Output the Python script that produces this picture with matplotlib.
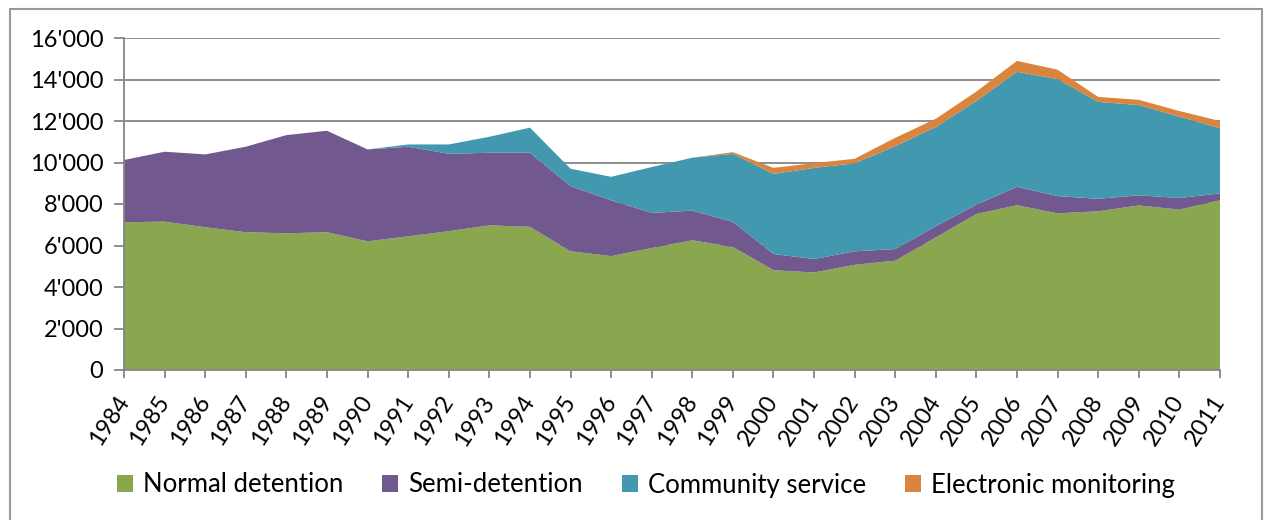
import matplotlib
matplotlib.use("Agg")
import matplotlib.pyplot as plt
from matplotlib.patches import Rectangle
from matplotlib.ticker import FuncFormatter

years = list(range(1984, 2012))

normal = [7120, 7150, 6880, 6640, 6590, 6640, 6200, 6440, 6690, 6970, 6900, 5720, 5490, 5880,
          6250, 5930, 4810, 4700, 5070, 5270, 6390, 7520, 7940, 7550, 7650, 7930, 7730, 8180]
semi = [3000, 3370, 3510, 4120, 4730, 4890, 4430, 4320, 3730, 3500, 3570, 3140, 2690, 1690,
        1430, 1210, 780, 650, 650, 560, 540, 450, 890, 830, 600, 490, 560, 330]
community = [0, 0, 0, 0, 0, 0, 0, 110, 450, 770, 1210, 840, 1130, 2210,
             2550, 3280, 3860, 4390, 4240, 4960, 4780, 5000, 5540, 5640, 4670, 4350, 3920, 3140]
electronic = [0, 0, 0, 0, 0, 0, 0, 0, 0, 0, 0, 0, 0, 0,
              0, 80, 290, 230, 220, 400, 400, 450, 530, 450, 240, 250, 270, 350]

labels = ["Normal detention", "Semi-detention", "Community service", "Electronic monitoring"]
colors = ["#8AA64F", "#71588F", "#4298AF", "#DB843D"]

plt.rcParams['font.family'] = ['Lato', 'DejaVu Sans']
grey = "#868686"

fig = plt.figure(figsize=(12.65, 5.2), dpi=100)
ax = fig.add_axes([124 / 1265, 1 - 370 / 520, (1220 - 124) / 1265, (370 - 38) / 520])

ax.stackplot(years, normal, semi, community, electronic, colors=colors, labels=labels, linewidth=0)

ax.set_xlim(years[0], years[-1])
ax.set_ylim(0, 16000)
ax.set_yticks(range(0, 16001, 2000))
ax.yaxis.set_major_formatter(FuncFormatter(lambda v, p: f"{int(v):,}".replace(",", "'")))
ax.set_xticks(years)
ax.set_xticklabels([str(y) for y in years], rotation=57, ha='right', va='center',
                   rotation_mode='anchor')

ax.grid(axis='y', color=grey, linewidth=1.3)
ax.set_axisbelow(True)
for s in ['top', 'right']:
    ax.spines[s].set_visible(False)
for s in ['left', 'bottom']:
    ax.spines[s].set_color(grey)
    ax.spines[s].set_linewidth(1.3)
ax.tick_params(axis='y', colors=grey, labelcolor='black', labelsize=17, length=7, width=1.3, pad=8)
ax.tick_params(axis='x', colors=grey, labelcolor='black', labelsize=17, length=6, width=1.3, pad=14)

fig.legend(loc='center', bbox_to_anchor=(646 / 1265, 1 - 485 / 520), ncol=4, frameon=False,
           fontsize=18.5, handlelength=0.62, handleheight=0.62, handletextpad=0.4, columnspacing=1.5)

fig.patches.append(Rectangle((10 / 1265, -0.05), 1252 / 1265, 1.05 - 9 / 520,
                             transform=fig.transFigure, fill=False, edgecolor="#999999", linewidth=1.5))

fig.savefig("out.png", dpi=100)
